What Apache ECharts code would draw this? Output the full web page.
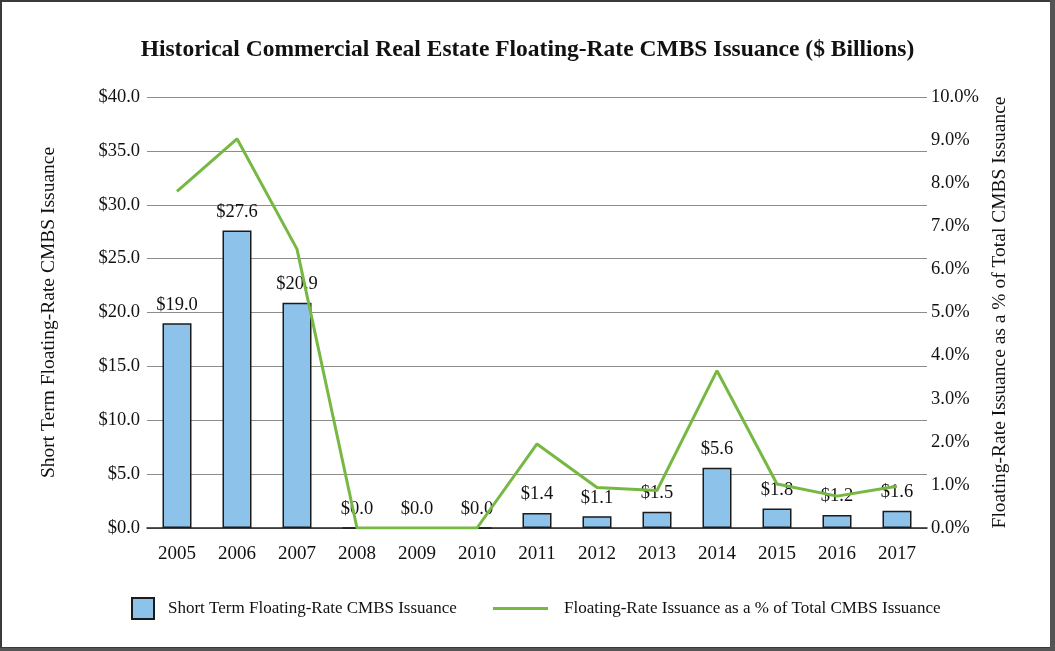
<!DOCTYPE html>
<html>
<head>
<meta charset="utf-8">
<script src="https://cdn.jsdelivr.net/npm/echarts@6/dist/echarts.min.js"></script>
<style>
html,body{margin:0;padding:0;background:#fff;}
#chart{width:1055px;height:651px;}
</style>
</head>
<body>
<div id="chart"></div>
<script>
const categories = ['2005','2006','2007','2008','2009','2010','2011','2012','2013','2014','2015','2016','2017'];
const issuance = [19.0, 27.6, 20.9, 0.0, 0.0, 0.0, 1.4, 1.1, 1.5, 5.6, 1.8, 1.2, 1.6];
const pctOfTotal = [7.81, 9.03, 6.47, 0.0, 0.0, 0.0, 1.95, 0.94, 0.87, 3.65, 1.02, 0.74, 0.97];
const leftTicks = [0, 5, 10, 15, 20, 25, 30, 35, 40];
const rightTicks = [0, 1, 2, 3, 4, 5, 6, 7, 8, 9, 10];

const FONT = '"Liberation Serif", "DejaVu Serif", serif';
const BAR_NAME = 'Short Term Floating-Rate CMBS Issuance';
const LINE_NAME = 'Floating-Rate Issuance as a % of Total CMBS Issuance';
const chart = echarts.init(document.getElementById('chart'), null, {renderer: 'canvas'});
chart.setOption({
  animation: false,
  backgroundColor: '#fff',
  textStyle: {fontFamily: FONT},
  title: {
    text: 'Historical Commercial Real Estate Floating-Rate CMBS Issuance ($ Billions)',
    left: 'center', top: 33,
    textStyle: {fontFamily: FONT, fontSize: 23.5, fontWeight: 'bold', color: '#111'}
  },
  grid: {left: 147, right: 128, top: 97, bottom: 123, containLabel: false},
  legend: [
    {
      left: 131, top: 597, padding: 0, itemWidth: 22, itemHeight: 21, itemGap: 0,
      textStyle: {fontFamily: FONT, fontSize: 17, color: '#111', padding: [0, 0, 0, 9]},
      data: [{name: BAR_NAME, icon: 'rect'}]
    },
    {
      left: 493, top: 600, padding: 0, itemWidth: 55, itemHeight: 21, itemGap: 0,
      textStyle: {fontFamily: FONT, fontSize: 17, color: '#111', padding: [0, 0, 0, 11]},
      data: [{name: LINE_NAME, icon: 'path://M0,9 L55,9 L55,12 L0,12 Z', itemStyle: {color: '#77B843', borderWidth: 0}}]
    }
  ],
  xAxis: {
    type: 'category', data: categories,
    axisLine: {lineStyle: {color: '#222', width: 1.5}},
    axisTick: {show: false},
    axisLabel: {fontFamily: FONT, fontSize: 19, color: '#111', margin: 17}
  },
  yAxis: [
    {
      type: 'value', min: leftTicks[0], max: leftTicks[leftTicks.length - 1], interval: 5,
      name: 'Short Term Floating-Rate CMBS Issuance', nameLocation: 'middle', nameGap: 88, nameRotate: 90,
      nameTextStyle: {fontFamily: FONT, fontSize: 19.5, color: '#111'},
      axisLine: {show: false}, axisTick: {show: false},
      axisLabel: {fontFamily: FONT, fontSize: 18.5, color: '#111', margin: 7, formatter: v => '$' + v.toFixed(1)},
      splitLine: {lineStyle: {color: '#8c8c8c', width: 1.2}}
    },
    {
      type: 'value', min: rightTicks[0], max: rightTicks[rightTicks.length - 1], interval: 1,
      name: 'Floating-Rate Issuance as a % of Total CMBS Issuance', nameLocation: 'middle', nameGap: 63, nameRotate: 90,
      nameTextStyle: {fontFamily: FONT, fontSize: 19.5, color: '#111'},
      axisLine: {show: false}, axisTick: {show: false},
      axisLabel: {fontFamily: FONT, fontSize: 18.5, color: '#111', margin: 4, formatter: v => v.toFixed(1) + '%'},
      splitLine: {show: false}
    }
  ],
  series: [
    {
      name: BAR_NAME, type: 'bar', data: issuance, yAxisIndex: 0,
      barWidth: 29,
      itemStyle: {color: '#8DC3EA', borderColor: '#1b1b1b', borderWidth: 1.5},
      label: {show: true, position: 'top', distance: 9, fontFamily: FONT, fontSize: 18.5, color: '#111', formatter: p => '$' + p.value.toFixed(1)},
      z: 2
    },
    {
      name: LINE_NAME, type: 'line', data: pctOfTotal, yAxisIndex: 1,
      symbol: 'none', lineStyle: {color: '#77B843', width: 3}, itemStyle: {color: '#77B843'},
      z: 3
    }
  ],
  graphic: [
    {type: 'rect', shape: {x: 1, y: 1, width: 1050, height: 647}, style: {fill: 'none', stroke: '#3a3a3a', lineWidth: 2}, silent: true},
    {type: 'rect', shape: {x: 1050, y: 0, width: 5, height: 651}, style: {fill: '#555'}, silent: true},
    {type: 'rect', shape: {x: 0, y: 648, width: 1055, height: 3}, style: {fill: '#555'}, silent: true}
  ]
});
</script>
</body>
</html>
